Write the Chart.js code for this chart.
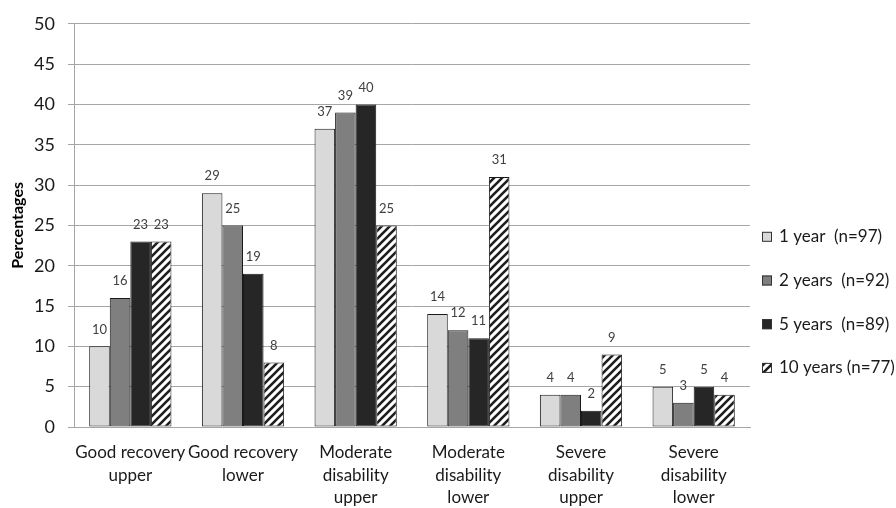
<!DOCTYPE html>
<html>
<head>
<meta charset="utf-8">
<script src="https://cdn.jsdelivr.net/npm/chart.js@4.4.1/dist/chart.umd.min.js"></script>
<style>
html, body { margin: 0; padding: 0; background: #fff; }
#wrap { width: 896px; height: 508px; }
</style>
</head>
<body>
<div id="wrap"><canvas id="outcome-chart" width="896" height="508"></canvas></div>
<script>
// outcome categories (multi-line labels) and series
var categories = [
	["Good recovery", "upper"],
	["Good recovery", "lower"],
	["Moderate", "disability", "upper"],
	["Moderate", "disability", "lower"],
	["Severe", "disability", "upper"],
	["Severe", "disability", "lower"]
];
var seriesNames = ["1 year  (n=97)", "2 years  (n=92)", "5 years  (n=89)", "10 years (n=77)"];
var oneYear   = [10, 29, 37, 14, 4, 5];
var twoYears  = [16, 25, 39, 12, 4, 3];
var fiveYears = [23, 19, 40, 11, 2, 5];
var tenYears  = [23, 8, 25, 31, 9, 4];
var yMin = 0, yMax = 50, yStep = 5;

var FONT = "Lato, 'Open Sans', sans-serif";
var canvas = document.getElementById("outcome-chart");
var ctx = canvas.getContext('2d');

// diagonal hatch used for the 10 years series
function makeHatch(){
	var c = document.createElement('canvas');
	c.width = 8; c.height = 8;
	var g = c.getContext('2d');
	g.fillStyle = '#fff';
	g.fillRect(0, 0, 8, 8);
	g.strokeStyle = '#1e1e1e';
	g.lineWidth = 2.6;
	g.beginPath();
	g.moveTo(-1, 9); g.lineTo(9, -1);
	g.moveTo(-5, 5); g.lineTo(5, -5);
	g.moveTo(3, 13); g.lineTo(13, 3);
	g.stroke();
	return ctx.createPattern(c, 'repeat');
}
var hatch = makeHatch();

var valueLabels = {
	id: 'valueLabels',
	afterDatasetsDraw: function(chart){
		var c = chart.ctx;
		c.save();
		c.font = "13px " + FONT;
		c.fillStyle = '#404040';
		c.textAlign = 'center';
		c.textBaseline = 'middle';
		chart.data.datasets.forEach(function(ds, i){
			var meta = chart.getDatasetMeta(i);
			meta.data.forEach(function(bar, j){
				c.fillText(ds.data[j], bar.x, bar.y - 17);
			});
		});
		c.restore();
	}
};

// legend drawn at the right, next to the plot
var sideLegend = {
	id: 'sideLegend',
	afterDraw: function(chart){
		var c = chart.ctx;
		var area = chart.chartArea;
		var x = area.right + 12;
		var y = area.top + 213;
		c.save();
		c.font = "17px " + FONT;
		c.textBaseline = 'middle';
		c.textAlign = 'left';
		chart.data.datasets.forEach(function(ds){
			c.fillStyle = ds.backgroundColor;
			c.fillRect(x, y - 5, 10, 10);
			c.strokeStyle = '#333';
			c.lineWidth = 1;
			c.strokeRect(x + 0.5, y - 4.5, 9, 9);
			c.fillStyle = '#1a1a1a';
			c.fillText(ds.label, x + 17, y);
			y += 43.7;
		});
		c.restore();
	}
};

function dataset(label, data, color){
	return {
		label: label,
		data: data,
		backgroundColor: color,
		borderColor: '#1a1a1a',
		borderWidth: 1,
		borderSkipped: false,
		categoryPercentage: 0.73,
		barPercentage: 1.0
	};
}

var chart = new Chart(ctx, {
	type: 'bar',
	data: {
		labels: categories,
		datasets: [
			dataset(seriesNames[0], oneYear, '#d9d9d9'),
			dataset(seriesNames[1], twoYears, '#7f7f7f'),
			dataset(seriesNames[2], fiveYears, '#262626'),
			dataset(seriesNames[3], tenYears, hatch)
		]
	},
	options: {
		responsive: false,
		animation: false,
		devicePixelRatio: 1,
		layout: { padding: { left: 0, top: 18, right: 146, bottom: 0 } },
		plugins: {
			legend: { display: false },
			tooltip: { enabled: false }
		},
		scales: {
			x: {
				grid: { display: false },
				border: { color: '#a6a6a6', width: 1 },
				ticks: {
					color: '#1a1a1a',
					font: { family: FONT, size: 17, lineHeight: 1.34 },
					padding: 6,
					maxRotation: 0,
					autoSkip: false
				},
				afterFit: function(scale){ scale.height = 81; }
			},
			y: {
				min: yMin,
				max: yMax,
				grid: { color: '#a6a6a6', tickLength: 6, drawTicks: true },
				border: { color: '#a6a6a6', width: 1 },
				ticks: {
					stepSize: yStep,
					color: '#1a1a1a',
					font: { family: FONT, size: 18 },
					padding: 13
				},
				title: {
					display: true,
					text: 'Percentages',
					color: '#000',
					font: { family: FONT, size: 16, weight: 'bold' },
					padding: { top: 8, bottom: 0 }
				},
				afterFit: function(scale){ scale.width = 74; }
			}
		}
	},
	plugins: [valueLabels, sideLegend]
});
</script>
</body>
</html>
